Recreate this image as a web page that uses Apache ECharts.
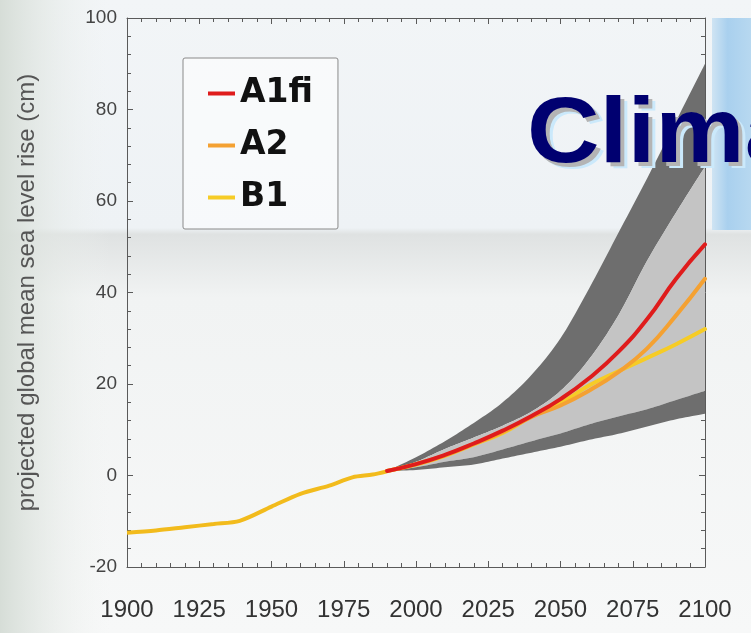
<!DOCTYPE html>
<html>
<head>
<meta charset="utf-8">
<script src="https://cdn.jsdelivr.net/npm/echarts@6/dist/echarts.min.js"></script>
<style>
html,body{margin:0;padding:0;background:#f4f6f6;}
#chart{width:751px;height:633px;}
</style>
</head>
<body>
<div id="chart"></div>
<script>
// ---- data ----
var histYears = [1900, 1910, 1920, 1930, 1939, 1950, 1960, 1970, 1978, 1985, 1990];
var histValues = [-12.5, -12.0, -11.3, -10.6, -9.9, -6.8, -4.0, -2.2, -0.4, 0.2, 0.9];

var projYears = [1990, 2000, 2010, 2020, 2030, 2040, 2050, 2060, 2070, 2080, 2090, 2100];
var upperOuter = [1.0, 4.0, 7.5, 11.5, 16.0, 22.0, 30.0, 41.0, 53.0, 65.0, 77.5, 90.0];
var upperInner = [1.0, 3.0, 5.8, 8.3, 10.9, 14.0, 18.5, 25.5, 35.0, 47.0, 57.5, 67.5];
var lowerInner = [1.0, 1.8, 3.0, 4.0, 5.7, 7.5, 9.2, 11.2, 12.9, 14.5, 16.5, 18.5];
var lowerOuter = [1.0, 1.2, 1.8, 2.4, 3.7, 5.0, 6.3, 7.8, 9.1, 10.7, 12.3, 13.5];

var a1fi = [1.0, 2.5, 4.5, 7.0, 9.8, 13.0, 16.7, 21.3, 27.0, 34.2, 43.0, 50.5];
var a2   = [1.0, 2.5, 4.4, 6.9, 9.5, 12.8, 15.3, 18.6, 22.6, 27.8, 35.0, 43.0];
var b1   = [1.0, 2.4, 4.3, 6.8, 9.3, 12.9, 15.8, 19.7, 22.8, 25.7, 28.7, 32.0];

var seriesNames = ['A1fi', 'A2', 'B1'];
var xTicks = {min: 1900, max: 2100, interval: 25};
var yTicks = {min: -20, max: 100, interval: 20};
var yAxisTitle = 'projected global mean sea level rise (cm)';
var slideTitle = 'Clima';

// ---- helpers ----
function pairs(xs, ys) { return xs.map(function (x, i) { return [x, ys[i]]; }); }

// smooth a pixel polyline (Catmull-Rom), rendering only
function smoothPts(P, steps) {
  var out = [];
  for (var i = 0; i < P.length - 1; i++) {
    var p0 = P[Math.max(i - 1, 0)], p1 = P[i], p2 = P[i + 1], p3 = P[Math.min(i + 2, P.length - 1)];
    for (var s = 0; s < steps; s++) {
      var t = s / steps, t2 = t * t, t3 = t2 * t;
      out.push([0, 1].map(function (k) {
        return 0.5 * (2 * p1[k] + (-p0[k] + p2[k]) * t +
          (2 * p0[k] - 5 * p1[k] + 4 * p2[k] - p3[k]) * t2 +
          (-p0[k] + 3 * p1[k] - 3 * p2[k] + p3[k]) * t3);
      }));
    }
  }
  out.push(P[P.length - 1]);
  return out;
}

var bandDark = '#6e6e6e';
var bandLight = '#c4c4c4';
var bands = [
  {hi: upperOuter, lo: upperInner, color: bandDark},
  {hi: upperInner, lo: lowerInner, color: bandLight},
  {hi: lowerInner, lo: lowerOuter, color: bandDark}
];

var chart = echarts.init(document.getElementById('chart'), null, {renderer: 'canvas'});
var axisColor = '#5a5a5a';

function lineSeries(name, values, color, z) {
  return {
    name: name, type: 'line', smooth: true, data: pairs(projYears, values),
    symbol: 'none', lineStyle: {width: 4, color: color, cap: 'round'},
    itemStyle: {color: color}, z: z
  };
}

var titleFont = 'bold 93px "Liberation Sans", Arial, sans-serif';
function titleText(dx, dy, color, z) {
  return {type: 'text', z: z, x: 527 + dx, y: 136 + dy, scaleX: 1.08,
    style: {text: slideTitle, x: 0, y: 0, font: titleFont, fill: color, verticalAlign: 'middle'}};
}

var option = {
  animation: false,
  backgroundColor: 'transparent',
  graphic: [
    {type: 'rect', z: -10, shape: {x: 0, y: 0, width: 751, height: 633},
      style: {fill: new echarts.graphic.LinearGradient(0, 0, 0, 1, [
        {offset: 0, color: '#f2f5f7'}, {offset: 0.36, color: '#eef2f5'},
        {offset: 0.37, color: '#dfe2e2'}, {offset: 0.47, color: '#f1f3f3'}, {offset: 1, color: '#f7f8f8'}])}},
    {type: 'rect', z: -9, shape: {x: 0, y: 0, width: 110, height: 633},
      style: {fill: new echarts.graphic.LinearGradient(0, 0, 1, 0, [
        {offset: 0, color: '#d6ddd7'}, {offset: 1, color: 'rgba(240,243,241,0)'}])}},
    {type: 'rect', z: -9, shape: {x: 712, y: 18, width: 39, height: 212},
      style: {fill: new echarts.graphic.LinearGradient(0, 0, 1, 0, [
        {offset: 0, color: '#cfe4f3'}, {offset: 0.4, color: '#a9d0ee'}, {offset: 1, color: '#b7d8f0'}])}},
    titleText(7, 6, '#cbe9fb', 100),
    titleText(4, 4, '#b4b4b4', 101),
    titleText(0, 0, '#000070', 102)
  ],
  grid: {left: 127, right: 46, top: 18, bottom: 66},
  legend: {
    data: seriesNames, orient: 'vertical', left: 183, top: 58,
    padding: [19, 25, 15, 25], itemGap: 19, itemWidth: 27, itemHeight: 4,
    icon: 'rect', borderColor: '#8a8a8a', borderWidth: 1, borderRadius: 2,
    backgroundColor: 'rgba(255,255,255,0.55)',
    textStyle: {fontFamily: '"DejaVu Sans", sans-serif', fontWeight: 'bold', fontSize: 33, color: '#111'}
  },
  xAxis: [{
    type: 'value', min: xTicks.min, max: xTicks.max, interval: xTicks.interval,
    axisLine: {show: true, onZero: false, lineStyle: {color: axisColor}},
    axisTick: {show: true, inside: true, length: 6, lineStyle: {color: axisColor}},
    minorTick: {show: true, splitNumber: 5, length: 4, lineStyle: {color: axisColor}},
    splitLine: {show: false},
    axisLabel: {margin: 31, fontSize: 24, color: '#333', fontFamily: '"Liberation Sans", Arial, sans-serif',
      formatter: function (v) { return String(v); }}
  }, {
    type: 'value', position: 'top', min: xTicks.min, max: xTicks.max, interval: xTicks.interval,
    axisLine: {show: true, onZero: false, lineStyle: {color: axisColor}},
    axisTick: {show: true, inside: true, length: 6, lineStyle: {color: axisColor}},
    minorTick: {show: true, splitNumber: 5, length: 4, lineStyle: {color: axisColor}},
    splitLine: {show: false}, axisLabel: {show: false}
  }],
  yAxis: [{
    type: 'value', min: yTicks.min, max: yTicks.max, interval: yTicks.interval,
    name: yAxisTitle, nameLocation: 'middle', nameGap: 88, nameRotate: 90,
    nameTextStyle: {fontSize: 24, color: '#555', fontFamily: '"Liberation Sans", Arial, sans-serif'},
    axisLine: {show: true, onZero: false, lineStyle: {color: axisColor}},
    axisTick: {show: true, inside: true, length: 6, lineStyle: {color: axisColor}},
    minorTick: {show: true, splitNumber: 5, length: 4, lineStyle: {color: axisColor}},
    splitLine: {show: false},
    axisLabel: {margin: 10, fontSize: 19, color: '#444', fontFamily: '"Liberation Sans", Arial, sans-serif'}
  }, {
    type: 'value', position: 'right', min: yTicks.min, max: yTicks.max, interval: yTicks.interval,
    axisLine: {show: true, onZero: false, lineStyle: {color: axisColor}},
    axisTick: {show: true, inside: true, length: 6, lineStyle: {color: axisColor}},
    minorTick: {show: true, splitNumber: 5, length: 4, lineStyle: {color: axisColor}},
    splitLine: {show: false}, axisLabel: {show: false}
  }],
  series: [
    {
      name: 'bands', type: 'custom', coordinateSystem: 'cartesian2d', z: 2, silent: true,
      data: bands.map(function (b, i) { return [projYears[0], b.lo[0], i]; }),
      renderItem: function (params, api) {
        var b = bands[params.dataIndex];
        var up = projYears.map(function (yr, i) { return api.coord([yr, b.hi[i]]); });
        var lo = projYears.map(function (yr, i) { return api.coord([yr, b.lo[i]]); });
        var pts = smoothPts(up, 10).concat(smoothPts(lo, 10).reverse());
        return {type: 'polygon', shape: {points: pts}, style: {fill: b.color, stroke: null}};
      }
    },
    {
      name: 'hist', type: 'line', smooth: 0.3, data: pairs(histYears, histValues),
      symbol: 'none', lineStyle: {width: 4, color: '#f2bb1c'}, z: 5
    },
    lineSeries(seriesNames[2], b1, '#f6cc26', 6),
    lineSeries(seriesNames[1], a2, '#f4a132', 7),
    lineSeries(seriesNames[0], a1fi, '#df1c1c', 8)
  ]
};
chart.setOption(option);
</script>
</body>
</html>
